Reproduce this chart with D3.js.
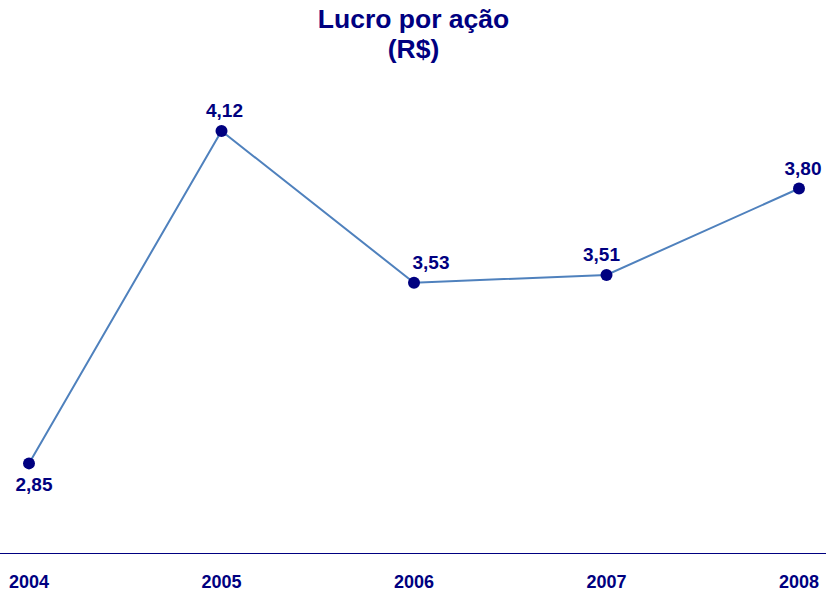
<!DOCTYPE html>
<html>
<head>
<meta charset="utf-8">
<script src="https://cdn.jsdelivr.net/npm/d3@7"></script>
<style>
  body { margin: 0; background: #fff; }
  text { font-family: Arial, "Liberation Sans", sans-serif; font-weight: bold; }
</style>
</head>
<body>
<script>
// data
var years = ['2004', '2005', '2006', '2007', '2008'];
var values = [2.85, 4.12, 3.54, 3.57, 3.90];   // plotted positions
var labels = ['2,85', '4,12', '3,53', '3,51', '3,80'];
var labelDx = [5, 3, 17, -5, 4];   // label nudges
var labelBelow = [true, false, false, false, false];

var width = 826, height = 592;
var navy = '#000080';
var lineColor = '#4F81BD';

var svg = d3.select('body').append('svg')
    .attr('width', width)
    .attr('height', height);

var x = d3.scalePoint()
  .domain(years)
  .range([29, 799]);

var y = d3.scaleLinear()
  .domain([2.5, 4.2])
  .range([555, 110]);

// title
svg.append('text')
    .attr('x', 413.5).attr('y', 28)
    .attr('text-anchor', 'middle')
    .attr('font-size', 26.5)
    .attr('fill', navy)
    .text('Lucro por ação');
svg.append('text')
    .attr('x', 413.5).attr('y', 58)
    .attr('text-anchor', 'middle')
    .attr('font-size', 26.5)
    .attr('fill', navy)
    .text('(R$)');

// x axis line + year labels
svg.append('line')
    .attr('x1', 0).attr('x2', width)
    .attr('y1', 553.5).attr('y2', 553.5)
    .attr('stroke', navy)
    .attr('stroke-width', 1);

svg.selectAll('.year')
  .data(years)
  .enter()
  .append('text')
    .attr('class', 'year')
    .attr('x', function(d) { return x(d); })
    .attr('y', 588)
    .attr('text-anchor', 'middle')
    .attr('font-size', 18)
    .attr('fill', navy)
    .text(function(d) { return d; });

// line
var line = d3.line()
  .x(function(d, i) { return x(years[i]); })
  .y(function(d) { return y(d); });

svg.append('path')
    .datum(values)
    .attr('d', line)
    .attr('fill', 'none')
    .attr('stroke', lineColor)
    .attr('stroke-width', 2);

svg.selectAll('circle')
  .data(values)
  .enter()
  .append('circle')
    .attr('cx', function(d, i) { return x(years[i]); })
    .attr('cy', function(d) { return y(d); })
    .attr('r', 6)
    .attr('fill', navy);

svg.selectAll('.lbl')
  .data(values)
  .enter()
  .append('text')
    .attr('class', 'lbl')
    .attr('x', function(d, i) { return x(years[i]) + labelDx[i]; })
    .attr('y', function(d, i) { return labelBelow[i] ? y(d) + 28 : y(d) - 14; })
    .attr('text-anchor', 'middle')
    .attr('font-size', 19)
    .attr('fill', navy)
    .text(function(d, i) { return labels[i]; });
</script>
</body>
</html>
